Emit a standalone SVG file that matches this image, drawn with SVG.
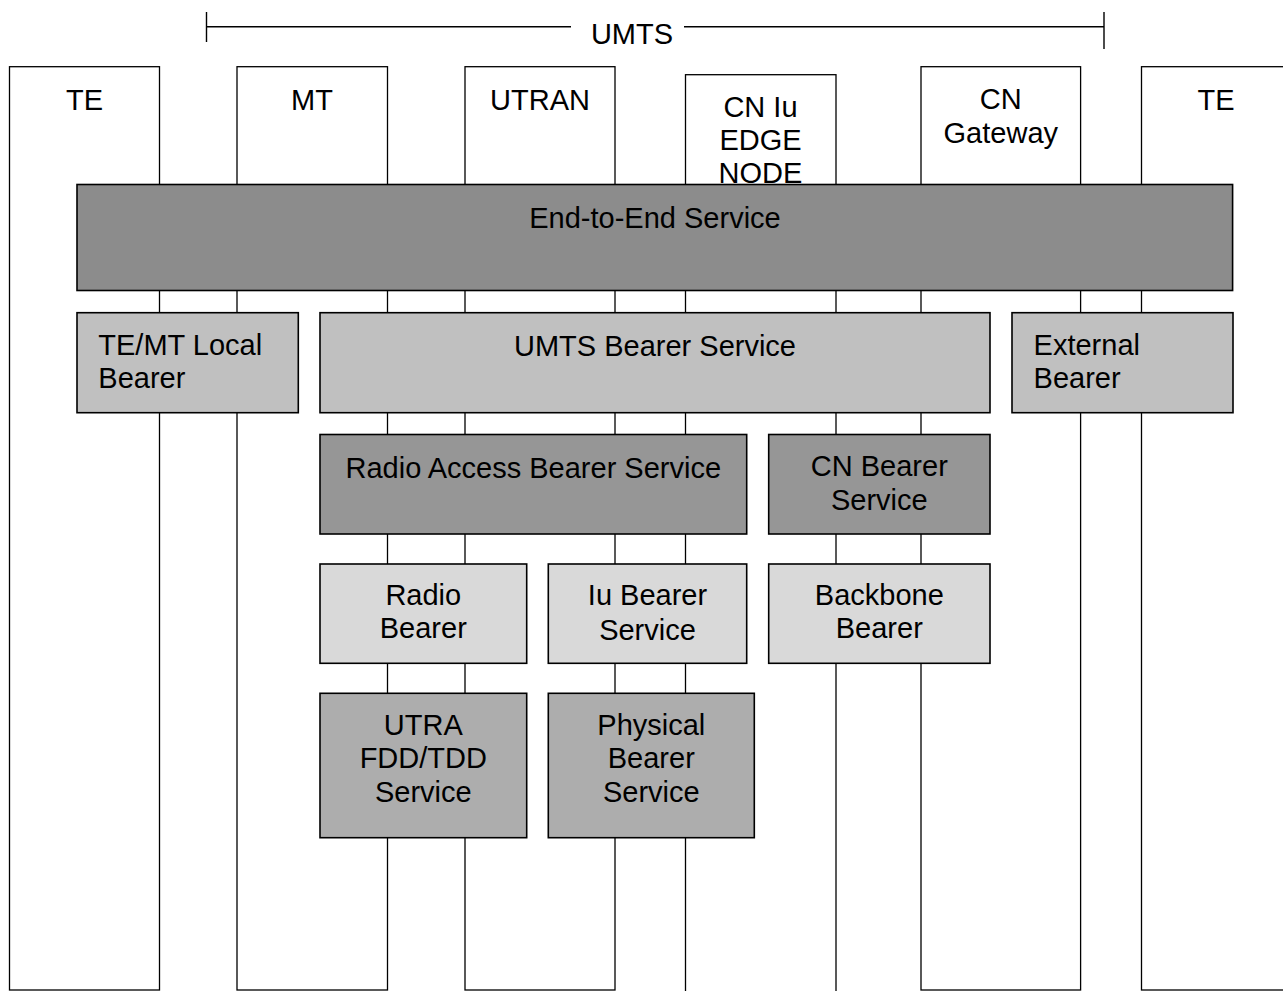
<svg xmlns="http://www.w3.org/2000/svg" width="1283" height="991" viewBox="0 0 1283 991">
<style>
  text { font-family: "Liberation Sans", Arial, sans-serif; font-size: 29px; fill: #000; }
  .c { text-anchor: middle; }
  .col { fill: #fff; stroke: #000; stroke-width: 1.3; }
  .box { stroke: #000; stroke-width: 1.6; }
  .e2e { fill: #8c8c8c; }
  .l2 { fill: #c0c0c0; }
  .l3 { fill: #969696; }
  .l4 { fill: #d9d9d9; }
  .l5 { fill: #adadad; }
  .span { stroke: #000; stroke-width: 1.4; fill: none; }
</style>
<rect x="0" y="0" width="1283" height="991" fill="#fff"/>

<g id="connectors">
  <path class="span" d="M206.5 12 V42 M206.5 26.7 H571 M684 26.7 H1104 M1104 12 V49"/>
  <text class="c" x="632" y="44.3">UMTS</text>
</g>

<g id="col-te-left">
  <rect class="col" x="9.5" y="66.7" width="150" height="923.3"/>
  <text class="c" x="84.5" y="110">TE</text>
</g>
<g id="col-mt">
  <rect class="col" x="237" y="66.7" width="150.5" height="923.3"/>
  <text class="c" x="312" y="110">MT</text>
</g>
<g id="col-utran">
  <rect class="col" x="465" y="66.7" width="150" height="923.3"/>
  <text class="c" x="540" y="110">UTRAN</text>
</g>
<g id="col-cn-iu-edge">
  <rect class="col" x="685.5" y="74.7" width="150.5" height="930"/>
  <text class="c" x="760.5" y="116.7">CN Iu</text>
  <text class="c" x="760.5" y="150">EDGE</text>
  <text class="c" x="760.5" y="182.7">NODE</text>
</g>
<g id="col-cn-gateway">
  <rect class="col" x="921" y="66.7" width="159.6" height="923.3"/>
  <text class="c" x="1000.8" y="109">CN</text>
  <text class="c" x="1000.8" y="142.7">Gateway</text>
</g>
<g id="col-te-right">
  <rect class="col" x="1141.5" y="66.7" width="150" height="923.3"/>
  <text class="c" x="1216" y="110">TE</text>
</g>

<g id="end-to-end">
  <rect class="box e2e" x="77" y="184.5" width="1155.6" height="106"/>
  <text class="c" x="655" y="228.3">End-to-End Service</text>
</g>

<g id="te-mt-local">
  <rect class="box l2" x="77" y="312.7" width="221.3" height="100"/>
  <text x="98.3" y="354.5">TE/MT Local</text>
  <text x="98.3" y="388.3">Bearer</text>
</g>
<g id="umts-bearer">
  <rect class="box l2" x="320" y="312.7" width="670" height="100"/>
  <text class="c" x="655" y="356">UMTS Bearer Service</text>
</g>
<g id="external-bearer">
  <rect class="box l2" x="1012" y="312.7" width="221" height="100"/>
  <text x="1033.6" y="355">External</text>
  <text x="1033.6" y="388.3">Bearer</text>
</g>

<g id="rab">
  <rect class="box l3" x="320" y="434.5" width="426.7" height="99.5"/>
  <text class="c" x="533.3" y="478.3">Radio Access Bearer Service</text>
</g>
<g id="cn-bearer">
  <rect class="box l3" x="768.7" y="434.5" width="221.3" height="99.5"/>
  <text class="c" x="879.3" y="475.7">CN Bearer</text>
  <text class="c" x="879.3" y="510">Service</text>
</g>

<g id="radio-bearer">
  <rect class="box l4" x="320" y="564" width="206.7" height="99.3"/>
  <text class="c" x="423.3" y="605">Radio</text>
  <text class="c" x="423.3" y="638.3">Bearer</text>
</g>
<g id="iu-bearer">
  <rect class="box l4" x="548.3" y="564" width="198.4" height="99.3"/>
  <text class="c" x="647.5" y="605">Iu Bearer</text>
  <text class="c" x="647.5" y="639.5">Service</text>
</g>
<g id="backbone-bearer">
  <rect class="box l4" x="768.7" y="564" width="221.3" height="99.3"/>
  <text class="c" x="879.3" y="605">Backbone</text>
  <text class="c" x="879.3" y="638.3">Bearer</text>
</g>

<g id="utra-service">
  <rect class="box l5" x="320" y="693.3" width="206.7" height="144.4"/>
  <text class="c" x="423.3" y="735">UTRA</text>
  <text class="c" x="423.3" y="768.3">FDD/TDD</text>
  <text class="c" x="423.3" y="801.7">Service</text>
</g>
<g id="physical-bearer">
  <rect class="box l5" x="548.3" y="693.3" width="206" height="144.4"/>
  <text class="c" x="651.3" y="734.5">Physical</text>
  <text class="c" x="651.3" y="768.3">Bearer</text>
  <text class="c" x="651.3" y="801.7">Service</text>
</g>
</svg>
